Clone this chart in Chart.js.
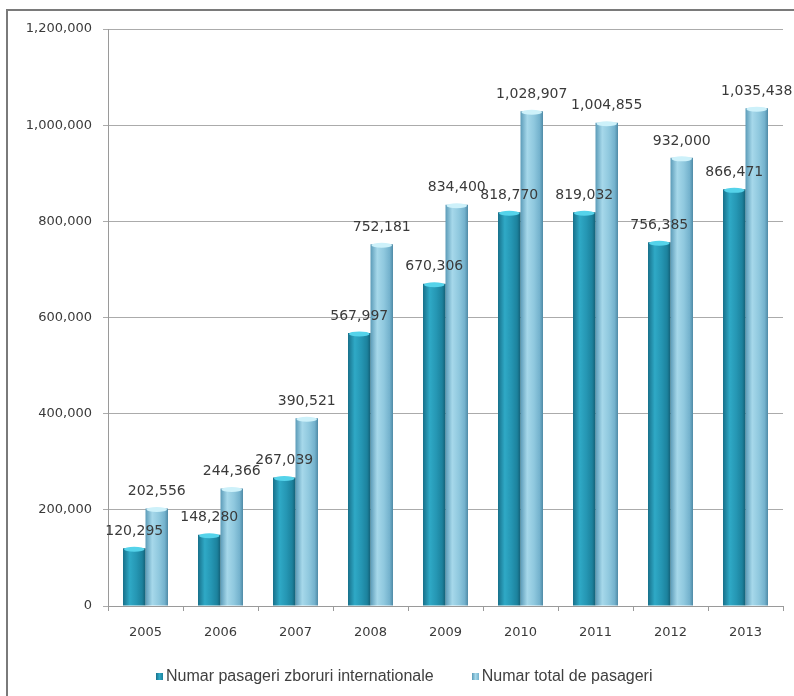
<!DOCTYPE html>
<html>
<head>
<meta charset="utf-8">
<script src="https://cdn.jsdelivr.net/npm/chart.js@4.4.1/dist/chart.umd.min.js"></script>
<style>
    html, body { margin: 0; padding: 0; background: #fff; }
    #wrap { position: relative; width: 794px; height: 696px; overflow: hidden; }
    #chart1 { position: absolute; left: 0; top: 0; }
    #frame {
        position: absolute; left: 6px; top: 9px; width: 800px; height: 700px;
        border-top: 2px solid #7a7a7a; border-left: 2px solid #7a7a7a;
        pointer-events: none;
    }
    #legend {
        position: absolute; top: 667px; left: 156px; line-height: 18px;
        font: 16px "Liberation Sans", sans-serif; color: #404040; white-space: nowrap;
    }
    #legend span.item { display: inline-block; margin-right: 38px; }
    #legend span.box { display: inline-block; width: 7px; height: 7px; margin-right: 3px; vertical-align: 1px; }
</style>
</head>
<body>
<div id="wrap">
    <canvas id="chart1" width="794" height="696"></canvas>
    <div id="frame"></div>
    <div id="legend"></div>
</div>
<script>
// Chart data
const years = ["2005", "2006", "2007", "2008", "2009", "2010", "2011", "2012", "2013"];
const internationalPassengers = [120295, 148280, 267039, 567997, 670306, 818770, 819032, 756385, 866471];
const totalPassengers = [202556, 244366, 390521, 752181, 834400, 1028907, 1004855, 932000, 1035438];
const seriesNames = ["Numar pasageri zboruri internationale", "Numar total de pasageri"];

// cylinder look: colour stops across each bar, left to right
const darkStops = ["#17708a", "#2fa9c6", "#2596b3", "#1c829d", "#135f76"];
const lightStops = ["#5b9bb8", "#a6d8ea", "#8fc8de", "#74b2cd", "#4f8aa6"];
const capColors = ["#55d3ea", "#cdf1fa"];

const CAT_PCT = 0.6;

function cylinder(ctx, stops) {
    const chart = ctx.chart;
    const xs = chart.scales.x;
    if (ctx.dataIndex === undefined || !xs || !chart.chartArea) return stops[1];
    const center = xs.getPixelForValue(ctx.dataIndex);
    const w = xs.width / years.length * CAT_PCT / 2;
    const left = ctx.datasetIndex === 0 ? center - w : center;
    const g = chart.ctx.createLinearGradient(left, 0, left + w, 0);
    g.addColorStop(0, stops[0]);
    g.addColorStop(0.3, stops[1]);
    g.addColorStop(0.6, stops[2]);
    g.addColorStop(0.85, stops[3]);
    g.addColorStop(1, stops[4]);
    return g;
}

// caps on top of bars and the value labels
const barLabels = {
    id: "barLabels",
    afterDatasetsDraw(chart) {
        const c = chart.ctx;
        c.save();
        chart.data.datasets.forEach((ds, i) => {
            chart.getDatasetMeta(i).data.forEach((el) => {
                c.fillStyle = capColors[i];
                c.beginPath();
                c.ellipse(el.x, el.y + 1, el.width / 2 - 1, 2.5, 0, 0, Math.PI * 2);
                c.fill();
            });
        });
        c.font = "14px 'DejaVu Sans'";
        c.fillStyle = "#3a3a3a";
        c.textAlign = "center";
        c.textBaseline = "middle";
        chart.data.datasets.forEach((ds, i) => {
            chart.getDatasetMeta(i).data.forEach((el, j) => {
                c.fillText(ds.data[j].toLocaleString("en-US"), el.x, el.y - 17);
            });
        });
        c.restore();
    }
};

function createChart(_labels, _data1, _data2) {
    const chartData = {
        labels: _labels,
        datasets: [
            {
                label: seriesNames[0],
                backgroundColor: (ctx) => cylinder(ctx, darkStops),
                data: _data1
            },
            {
                label: seriesNames[1],
                backgroundColor: (ctx) => cylinder(ctx, lightStops),
                data: _data2
            }
        ]
    };

    const chartConfig = {
        type: "bar",
        data: chartData,
        plugins: [barLabels],
        options: {
            responsive: false,
            animation: false,
            datasets: {
                bar: { categoryPercentage: CAT_PCT, barPercentage: 1 }
            },
            layout: { padding: { left: 12, top: 29, right: 11, bottom: 60 } },
            plugins: {
                legend: { display: false },
                tooltip: { enabled: false }
            },
            scales: {
                x: {
                    afterFit: (s) => { s.height = 30; },
                    grid: { drawOnChartArea: false, drawTicks: true, tickLength: 5, color: "#9a9a9a" },
                    border: { color: "#9a9a9a" },
                    ticks: { color: "#3a3a3a", font: { family: "DejaVu Sans", size: 13 }, padding: 14 }
                },
                y: {
                    min: 0,
                    max: 1200000,
                    afterFit: (s) => { s.width = 96; },
                    grid: { color: "#ababab", tickLength: 5 },
                    border: { color: "#9a9a9a" },
                    ticks: {
                        stepSize: 200000,
                        color: "#3a3a3a",
                        font: { family: "DejaVu Sans", size: 13 },
                        padding: 11,
                        callback: (v) => v.toLocaleString("en-US")
                    }
                }
            }
        }
    };
    new Chart(document.getElementById("chart1"), chartConfig);
}

function createLegend() {
    const boxes = ["linear-gradient(90deg,#17708a,#2fa9c6,#1c829d)", "linear-gradient(90deg,#5b9bb8,#a6d8ea,#74b2cd)"];
    document.getElementById("legend").innerHTML = seriesNames.map((n, i) =>
        '<span class="item"><span class="box" style="background:' + boxes[i] + '"></span>' + n + '</span>'
    ).join("");
}

createChart(years, internationalPassengers, totalPassengers);
createLegend();
</script>
</body>
</html>
